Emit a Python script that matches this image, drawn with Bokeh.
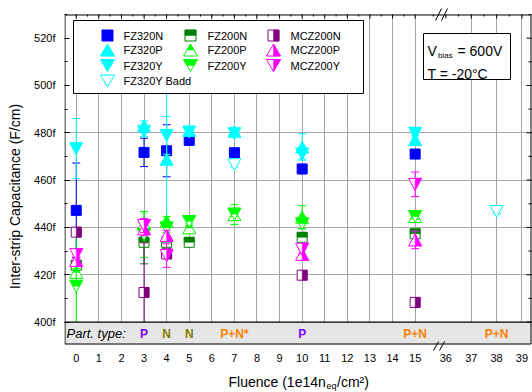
from bokeh.plotting import figure
from bokeh.models import FixedTicker, PrintfTickFormatter, Range1d, Label
from bokeh.embed import file_html
from bokeh.resources import INLINE

# ---------------- data ----------------
FLUENCE = [0, 3, 4, 5, 7, 10, 15, 38]
TICK_FLUENCE = list(range(0, 16)) + [36, 37, 38, 39]
Y_TICKS = [400, 420, 440, 460, 480, 500, 520]

FZ320N      = [447.2, 471.7, 472.4, 476.8, 471.6, 464.7, 471.0, None]
FZ320N_ERR  = [20.0, 6.0, 11.0, 2.0, 1.0, 2.0, 1.0, None]
FZ320P      = [None, 483.0, 468.8, 481.0, 480.6, 474.0, 477.1, None]
FZ320P_ERR  = [None, 2.0, 37.0, 1.0, 1.0, 5.6, 1.0, None]
FZ320Y      = [473.3, 480.5, 478.9, 480.3, 479.6, 471.0, 479.8, None]
FZ320Y_ERR  = [12.7, 2.0, 8.0, 1.0, 1.0, 2.0, 1.0, None]
FZ320YB     = [None, None, None, None, 466.5, None, None, 446.7]
FZ320YB_ERR = [None, None, None, None, 1.0, None, None, 1.0]
FZ200N      = [424.0, 433.7, 433.7, 433.7, None, 435.8, 437.3, None]
FZ200N_ERR  = [1.0, 9.1, 1.5, 1.0, None, 1.5, 1.0, None]
FZ200P      = [421.0, 441.5, 442.6, 439.8, 445.4, 444.3, 444.6, None]
FZ200P_ERR  = [1.5, 5.2, 2.0, 1.0, 4.2, 4.9, 1.0, None]
FZ200Y      = [415.1, 437.0, 439.8, 442.5, 445.6, 441.5, 444.6, None]
FZ200Y_ERR  = [24.0, 9.7, 2.0, 1.0, 1.0, 2.0, 1.0, None]
MCZ200N     = [438.0, 412.5, 428.8, None, None, 419.8, 408.3, None]
MCZ200N_ERR = [1.0, 21.0, 2.0, None, None, 1.0, 1.0, None]
MCZ200P     = [426.0, 439.4, 436.6, None, None, 428.6, 434.7, None]
MCZ200P_ERR = [1.0, 3.0, 2.0, None, None, 2.0, 3.7, None]
MCZ200Y     = [428.5, 440.8, 428.1, None, None, 430.8, 458.2, None]
MCZ200Y_ERR = [1.0, 3.0, 5.0, None, None, 2.0, 5.2, None]

PART_FLUENCE = [3, 4, 5, 7, 10, 15, 38]
PART_TYPE = ["P", "N", "N", "P+N*", "P", "P+N", "P+N"]

# ---------------- geometry ----------------
W, H = 532, 392
BL = 64                    # bokeh frame left (px); frame spans full height
PL, PR, PT, PB = 64, 531, 14, 344   # drawn plot box (px)
X0, X1 = -0.52, 20.15      # data at PL / PR
YA, YB = 390.5, 530.0      # data at PB / PT
SX = (PR - PL) / (X1 - X0)
SY = (PB - PT) / (YB - YA)
FONT = "Liberation Sans"


def xpos(f):
    # broken axis: 0..15 linear, then 36..39 after the break
    return f if f <= 15 else 16.36 + (f - 36) * 1.123


def px2x(px):
    return X0 + (px - PL) / SX


def px2y(py):
    return YB - (py - PT) / SY


p = figure(width=W, height=H, output_backend="svg", toolbar_location=None,
           min_border_left=BL, min_border_right=0, min_border_top=0, min_border_bottom=0,
           x_range=Range1d(px2x(BL), px2x(W)), y_range=Range1d(px2y(H), px2y(0)), title=None)
p.outline_line_color = None
p.background_fill_color = "white"
p.border_fill_color = "white"
p.xaxis.visible = False

ya = p.yaxis[0]
ya.ticker = FixedTicker(ticks=Y_TICKS, minor_ticks=list(range(400, 531, 10)))
ya.formatter = PrintfTickFormatter(format="%df")
ya.major_tick_in = 5
ya.major_tick_out = 0
ya.minor_tick_in = 3
ya.minor_tick_out = 0
ya.axis_line_color = None
ya.major_label_standoff = 9
ya.major_label_text_font = FONT
ya.major_label_text_font_size = "11px"
ya.major_label_text_color = "black"
ya.axis_label = "Inter-strip Capacitance (F/cm)"
ya.axis_label_text_font = FONT
ya.axis_label_text_font_size = "14px"
ya.axis_label_text_font_style = "normal"
ya.axis_label_text_color = "black"
ya.axis_label_standoff = 8

p.xgrid.ticker = FixedTicker(ticks=[xpos(f) for f in TICK_FLUENCE if f != 36])
p.ygrid.ticker = FixedTicker(ticks=[420, 440, 460, 480])
p.xgrid.grid_line_color = "#a6a6a6"
p.ygrid.grid_line_color = "#a6a6a6"

# mask grid outside the plot box
p.quad(left=[px2x(BL)] * 2, right=[px2x(W)] * 2, bottom=[YB, px2y(H)], top=[px2y(0), YA],
       fill_color="white", line_color=None)


# ---------------- markers ----------------
def full_shape(kind, cx, cy, w, h):
    dx, dy = w / 2 / SX, h / 2 / SY
    if kind == "sq":
        return [cx - dx, cx + dx, cx + dx, cx - dx], [cy - dy, cy - dy, cy + dy, cy + dy]
    if kind == "up":
        return [cx - dx, cx + dx, cx], [cy - dy, cy - dy, cy + dy]
    return [cx - dx, cx + dx, cx], [cy + dy, cy + dy, cy - dy]


def half_shape(kind, part, cx, cy, w, h):
    dx, dy = w / 2 / SX, h / 2 / SY
    if kind == "sq":
        if part == "top":
            return [cx - dx, cx + dx, cx + dx, cx - dx], [cy, cy, cy + dy, cy + dy]
        return [cx, cx + dx, cx + dx, cx], [cy - dy, cy - dy, cy + dy, cy + dy]
    if kind == "up":
        if part == "top":
            return [cx - dx / 2, cx + dx / 2, cx], [cy, cy, cy + dy]
        return [cx, cx + dx, cx], [cy + dy, cy - dy, cy - dy]
    if part == "top":
        return [cx - dx, cx + dx, cx + dx / 2, cx - dx / 2], [cy + dy, cy + dy, cy, cy]
    return [cx, cx + dx, cx], [cy + dy, cy + dy, cy - dy]


def draw_markers(pts, kind, color, fill, w, h):
    xs, ys, hx, hy = [], [], [], []
    for cx, cy in pts:
        a, b = full_shape(kind, cx, cy, w, h)
        xs.append(a); ys.append(b)
        if fill in ("top", "right"):
            a, b = half_shape(kind, fill, cx, cy, w, h)
            hx.append(a); hy.append(b)
    if fill == "full":
        p.patches(xs, ys, fill_color=color, line_color=color, line_width=1, line_join="miter")
    else:
        p.patches(xs, ys, fill_color="white", line_color=color, line_width=1, line_join="miter")
        if hx:
            p.patches(hx, hy, fill_color=color, line_color=color, line_width=0.5, line_join="miter")


SQ = (10, 10)
TRI = (13, 12)
SERIES = [
    ("FZ320N", FZ320N, FZ320N_ERR, "sq", "#0000ff", "full"),
    ("FZ320P", FZ320P, FZ320P_ERR, "up", "#00ffff", "full"),
    ("FZ320Y", FZ320Y, FZ320Y_ERR, "dn", "#00ffff", "full"),
    ("FZ320Y Badd", FZ320YB, FZ320YB_ERR, "dn", "#00ffff", "open"),
    ("FZ200N", FZ200N, FZ200N_ERR, "sq", "#008000", "top"),
    ("FZ200P", FZ200P, FZ200P_ERR, "up", "#00ff00", "top"),
    ("FZ200Y", FZ200Y, FZ200Y_ERR, "dn", "#00ff00", "top"),
    ("MCZ200N", MCZ200N, MCZ200N_ERR, "sq", "#800080", "right"),
    ("MCZ200P", MCZ200P, MCZ200P_ERR, "up", "#ff00ff", "right"),
    ("MCZ200Y", MCZ200Y, MCZ200Y_ERR, "dn", "#ff00ff", "right"),
]

cap = 4 / SX
for name, vals, errs, kind, color, fill in SERIES:
    pts = []
    ex, elo, ehi = [], [], []
    for f, v, e in zip(FLUENCE, vals, errs):
        if v is None:
            continue
        x = xpos(f)
        pts.append((x, v))
        if e:
            ex.append(x); elo.append(v - e); ehi.append(v + e)
    if ex:
        p.segment(x0=ex, x1=ex, y0=elo, y1=ehi, line_color=color, line_width=1)
        p.segment(x0=[x - cap for x in ex] * 2, x1=[x + cap for x in ex] * 2,
                  y0=elo + ehi, y1=elo + ehi, line_color=color, line_width=1)
    w, h = SQ if kind == "sq" else TRI
    draw_markers(pts, kind, color, fill, w, h)

# ---------------- particle type band ----------------
p.quad(left=[X0], right=[X1], bottom=[YA], top=[400], fill_color="#e6e6e6", line_color=None)
p.quad(left=[px2x(BL)], right=[px2x(W)], bottom=[px2y(H)], top=[YA - 0.01], fill_color="white", line_color=None)
p.segment(x0=[X0], x1=[X1], y0=[400], y1=[400], line_color="black", line_width=1.2)
p.add_layout(Label(x=px2x(66), y=px2y(333), text="Part. type:", text_font=FONT, text_font_size="13px",
                   text_font_style="italic", text_color="black", text_baseline="middle", text_align="left"))
PT_COL = {"P": "#8000ff", "N": "#808000", "P+N": "#ff8000", "P+N*": "#ff8000"}
for f, t in zip(PART_FLUENCE, PART_TYPE):
    p.add_layout(Label(x=xpos(f), y=px2y(333), text=t, text_font=FONT, text_font_size="12px",
                       text_font_style="bold", text_color=PT_COL[t], text_baseline="middle",
                       text_align="center"))

# ---------------- plot box & ticks ----------------
p.quad(left=[px2x(PL + 0.5)], right=[px2x(PR - 0.5)], bottom=[px2y(PB - 0.5)], top=[px2y(PT + 0.5)],
       fill_color=None, line_color="black", line_width=1)
top_major = [xpos(f) for f in TICK_FLUENCE]
top_minor = [xpos(f) + 0.5 for f in range(0, 15)] + [xpos(f) + 0.56 for f in [36, 37, 38]] + [xpos(36) - 0.56]
p.segment(x0=top_major, x1=top_major, y0=[YB] * len(top_major), y1=[YB - 4 / SY] * len(top_major),
          line_color="black", line_width=1)
p.segment(x0=top_minor, x1=top_minor, y0=[YB] * len(top_minor), y1=[YB - 2 / SY] * len(top_minor),
          line_color="black", line_width=1)
p.segment(x0=[X1] * len(Y_TICKS), x1=[X1 - 5 / SX] * len(Y_TICKS), y0=Y_TICKS, y1=Y_TICKS,
          line_color="black", line_width=1)
rminor = list(range(410, 531, 20))
p.segment(x0=[X1] * len(rminor), x1=[X1 - 3 / SX] * len(rminor), y0=rminor, y1=rminor,
          line_color="black", line_width=1)

# axis break marks
brk = [(435, 20, 441, 8), (441, 20, 447, 8), (433, 350, 438, 341), (439, 350, 444, 341)]
p.segment(x0=[px2x(b[0]) for b in brk], y0=[px2y(b[1]) for b in brk],
          x1=[px2x(b[2]) for b in brk], y1=[px2y(b[3]) for b in brk], line_color="black", line_width=1)

# x tick labels
for f in TICK_FLUENCE:
    p.add_layout(Label(x=xpos(f), y=px2y(357), text=str(f), text_font=FONT, text_font_size="11px",
                       text_color="black", text_baseline="middle", text_align="center"))

# ---------------- legend ----------------
p.quad(left=[px2x(73)], right=[px2x(363)], top=[px2y(20)], bottom=[px2y(93)],
       fill_color="white", line_color="black", line_width=1)
LEG_COLS = [[0, 1, 2, 3], [4, 5, 6], [7, 8, 9]]
MK_PX = [107, 190, 273]
TX_PX = [123, 207, 290]
ROW_PX = [35, 49.5, 65, 80.5]
for c, idxs in enumerate(LEG_COLS):
    for r, i in enumerate(idxs):
        name, vals, errs, kind, color, fill = SERIES[i]
        w, h = (11, 11) if kind == "sq" else (14, 12)
        draw_markers([(px2x(MK_PX[c]), px2y(ROW_PX[r]))], kind, color, fill, w, h)
        p.add_layout(Label(x=px2x(TX_PX[c]), y=px2y(ROW_PX[r]), text=name, text_font=FONT,
                           text_font_size="11px", text_color="black", text_baseline="middle",
                           text_align="left"))

# ---------------- conditions box ----------------
p.quad(left=[px2x(423)], right=[px2x(510)], top=[px2y(33)], bottom=[px2y(79)],
       fill_color="white", line_color="black", line_width=1)
for xx, yy, t, fs in [(427, 50, "V", "14px"), (437.5, 54.5, "bias", "8px"),
                      (457, 50, "= 600V", "14px"), (427, 73, "T = -20°C", "14px")]:
    p.add_layout(Label(x=px2x(xx), y=px2y(yy), text=t, text_font=FONT, text_font_size=fs,
                       text_color="black", text_baseline="alphabetic", text_align="left"))

# ---------------- x axis title ----------------
for xx, yy, t, fs in [(228, 381, "Fluence (1e14n", "14px"), (326, 385.5, "eq", "9px"),
                      (336.5, 381, "/cm²)", "14px")]:
    p.add_layout(Label(x=px2x(xx), y=px2y(yy), text=t, text_font=FONT, text_font_size=fs,
                       text_color="black", text_baseline="alphabetic", text_align="left"))

open("out.html", "w").write(file_html(p, INLINE))
